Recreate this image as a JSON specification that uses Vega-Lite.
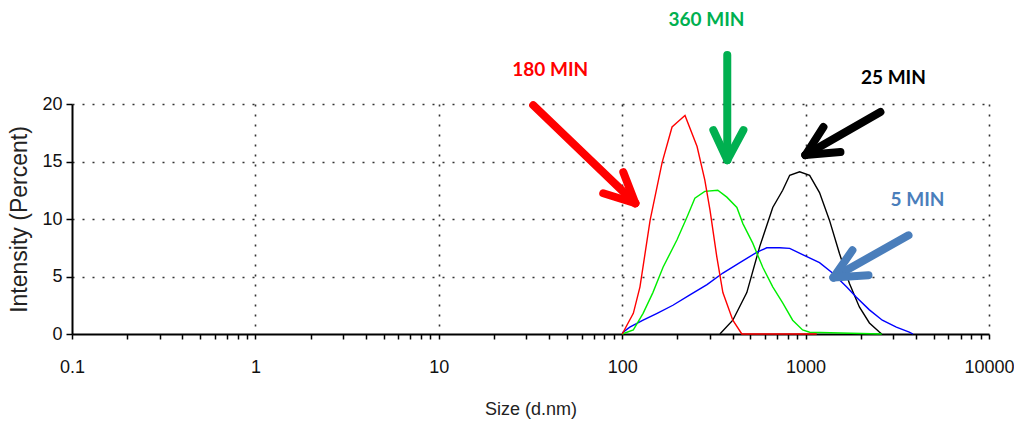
{
  "$schema": "https://vega.github.io/schema/vega-lite/v6.json",
  "width": 917,
  "height": 230,
  "autosize": {"type": "none"},
  "padding": {"left": 72, "top": 104, "right": 25, "bottom": 89},
  "background": "white",
  "config": {
    "view": {"stroke": null},
    "axis": {"labelFont": "Liberation Sans", "titleFont": "Liberation Sans", "labelColor": "#111111", "titleColor": "#222222", "titleFontWeight": "normal"}
  },
  "datasets": {
    "curves": [
      {"series": "25 MIN", "size": 341, "intensity": 0},
      {"series": "25 MIN", "size": 401, "intensity": 1.2},
      {"series": "25 MIN", "size": 478, "intensity": 3.6},
      {"series": "25 MIN", "size": 562, "intensity": 7.6},
      {"series": "25 MIN", "size": 662, "intensity": 11.0},
      {"series": "25 MIN", "size": 750, "intensity": 12.5},
      {"series": "25 MIN", "size": 819, "intensity": 13.8},
      {"series": "25 MIN", "size": 928, "intensity": 14.1},
      {"series": "25 MIN", "size": 1052, "intensity": 13.8},
      {"series": "25 MIN", "size": 1191, "intensity": 12.3},
      {"series": "25 MIN", "size": 1349, "intensity": 9.9},
      {"series": "25 MIN", "size": 1530, "intensity": 7.0},
      {"series": "25 MIN", "size": 1734, "intensity": 4.4},
      {"series": "25 MIN", "size": 1964, "intensity": 2.35},
      {"series": "25 MIN", "size": 2228, "intensity": 0.96},
      {"series": "25 MIN", "size": 2524, "intensity": 0.17},
      {"series": "25 MIN", "size": 2600, "intensity": 0},
      {"series": "5 MIN", "size": 100, "intensity": 0.1},
      {"series": "5 MIN", "size": 110, "intensity": 0.6},
      {"series": "5 MIN", "size": 130, "intensity": 1.2},
      {"series": "5 MIN", "size": 155, "intensity": 1.8},
      {"series": "5 MIN", "size": 189, "intensity": 2.5},
      {"series": "5 MIN", "size": 234, "intensity": 3.4},
      {"series": "5 MIN", "size": 290, "intensity": 4.3},
      {"series": "5 MIN", "size": 354, "intensity": 5.3},
      {"series": "5 MIN", "size": 438, "intensity": 6.2},
      {"series": "5 MIN", "size": 541, "intensity": 7.1},
      {"series": "5 MIN", "size": 614, "intensity": 7.5},
      {"series": "5 MIN", "size": 722, "intensity": 7.5},
      {"series": "5 MIN", "size": 819, "intensity": 7.45},
      {"series": "5 MIN", "size": 963, "intensity": 6.9},
      {"series": "5 MIN", "size": 1191, "intensity": 6.2},
      {"series": "5 MIN", "size": 1402, "intensity": 5.3},
      {"series": "5 MIN", "size": 1671, "intensity": 4.1},
      {"series": "5 MIN", "size": 1892, "intensity": 3.2},
      {"series": "5 MIN", "size": 2228, "intensity": 2.1},
      {"series": "5 MIN", "size": 2620, "intensity": 1.2},
      {"series": "5 MIN", "size": 3125, "intensity": 0.6},
      {"series": "5 MIN", "size": 3674, "intensity": 0.17},
      {"series": "5 MIN", "size": 3850, "intensity": 0},
      {"series": "360 MIN", "size": 100, "intensity": 0},
      {"series": "360 MIN", "size": 115, "intensity": 0.35},
      {"series": "360 MIN", "size": 130, "intensity": 1.8},
      {"series": "360 MIN", "size": 147, "intensity": 3.6},
      {"series": "360 MIN", "size": 167, "intensity": 5.8},
      {"series": "360 MIN", "size": 199, "intensity": 8.2},
      {"series": "360 MIN", "size": 226, "intensity": 10.2},
      {"series": "360 MIN", "size": 249, "intensity": 11.8},
      {"series": "360 MIN", "size": 282, "intensity": 12.4},
      {"series": "360 MIN", "size": 332, "intensity": 12.5},
      {"series": "360 MIN", "size": 372, "intensity": 11.9},
      {"series": "360 MIN", "size": 422, "intensity": 11.0},
      {"series": "360 MIN", "size": 455, "intensity": 9.6},
      {"series": "360 MIN", "size": 515, "intensity": 7.9},
      {"series": "360 MIN", "size": 584, "intensity": 5.8},
      {"series": "360 MIN", "size": 662, "intensity": 4.1},
      {"series": "360 MIN", "size": 750, "intensity": 2.7},
      {"series": "360 MIN", "size": 850, "intensity": 1.2},
      {"series": "360 MIN", "size": 963, "intensity": 0.35},
      {"series": "360 MIN", "size": 1052, "intensity": 0.15},
      {"series": "360 MIN", "size": 2600, "intensity": 0},
      {"series": "180 MIN", "size": 100, "intensity": 0},
      {"series": "180 MIN", "size": 115, "intensity": 1.8},
      {"series": "180 MIN", "size": 125, "intensity": 4.1},
      {"series": "180 MIN", "size": 142, "intensity": 9.9},
      {"series": "180 MIN", "size": 165, "intensity": 14.9},
      {"series": "180 MIN", "size": 187, "intensity": 18.0},
      {"series": "180 MIN", "size": 199, "intensity": 18.4},
      {"series": "180 MIN", "size": 220, "intensity": 19.0},
      {"series": "180 MIN", "size": 256, "intensity": 16.3},
      {"series": "180 MIN", "size": 282, "intensity": 13.4},
      {"series": "180 MIN", "size": 301, "intensity": 10.8},
      {"series": "180 MIN", "size": 328, "intensity": 6.7},
      {"series": "180 MIN", "size": 354, "intensity": 3.6},
      {"series": "180 MIN", "size": 401, "intensity": 1.2},
      {"series": "180 MIN", "size": 449, "intensity": 0},
      {"series": "180 MIN", "size": 1150, "intensity": 0}
    ],
    "arrows": [
      {"label": "180 MIN", "x": 32.7, "y": 19.9, "x2": 117.9, "y2": 11.37},
      {"label": "180 MIN", "x": 101.4, "y": 14.07, "x2": 117.9, "y2": 11.37},
      {"label": "180 MIN", "x": 78.8, "y": 12.24, "x2": 117.9, "y2": 11.37},
      {"label": "360 MIN", "x": 374, "y": 24.27, "x2": 374, "y2": 15.12},
      {"label": "360 MIN", "x": 314, "y": 17.73, "x2": 374, "y2": 15.12},
      {"label": "360 MIN", "x": 458, "y": 17.73, "x2": 374, "y2": 15.12},
      {"label": "25 MIN", "x": 2559, "y": 19.3, "x2": 998, "y2": 15.56},
      {"label": "25 MIN", "x": 1251, "y": 18.0, "x2": 998, "y2": 15.56},
      {"label": "25 MIN", "x": 1549, "y": 15.82, "x2": 998, "y2": 15.56},
      {"label": "5 MIN", "x": 3639, "y": 8.58, "x2": 1419, "y2": 4.92},
      {"label": "5 MIN", "x": 1800, "y": 7.28, "x2": 1419, "y2": 4.92},
      {"label": "5 MIN", "x": 2202, "y": 5.1, "x2": 1419, "y2": 4.92}
    ],
    "labels": [
      {"label": "180 MIN", "x": 40.5, "y": 22.96},
      {"label": "360 MIN", "x": 288, "y": 27.3},
      {"label": "25 MIN", "x": 3013, "y": 22.27},
      {"label": "5 MIN", "x": 4074, "y": 11.63}
    ]
  },
  "layer": [
    {
      "data": {"name": "curves"},
      "mark": {"type": "line", "strokeWidth": 1.4},
      "encoding": {
        "x": {
          "field": "size", "type": "quantitative",
          "scale": {"type": "log", "domain": [0.1, 10000]},
          "axis": {
            "title": "Size (d.nm)",
            "values": [0.1, 0.2, 0.3, 0.4, 0.5, 0.6, 0.7, 0.8, 0.9, 1, 2, 3, 4, 5, 6, 7, 8, 9, 10, 20, 30, 40, 50, 60, 70, 80, 90, 100, 200, 300, 400, 500, 600, 700, 800, 900, 1000, 2000, 3000, 4000, 5000, 6000, 7000, 8000, 9000, 10000],
            "format": "~g",
            "labelExpr": "indexof([0.1, 1, 10, 100, 1000, 10000], datum.value) >= 0 ? datum.label : ''",
            "labelFontSize": 18,
            "titleFontSize": 18,
            "labelPadding": 19,
            "labelOverlap": false,
            "labelFlush": false,
            "tickSize": 5,
            "tickColor": "#000000",
            "tickWidth": 1.5,
            "domainColor": "#000000",
            "domainWidth": 2,
            "grid": true,
            "gridColor": "#333333",
            "gridDash": [2, 8],
            "gridWidth": 1.6,
            "gridOpacity": {"condition": {"test": "indexof([1, 10, 100, 1000, 10000], datum.value) >= 0", "value": 1}, "value": 0},
            "titlePadding": 24
          }
        },
        "y": {
          "field": "intensity", "type": "quantitative",
          "scale": {"domain": [0, 20], "nice": false},
          "axis": {
            "title": "Intensity (Percent)",
            "values": [0, 2.5, 5, 7.5, 10, 12.5, 15, 17.5, 20],
            "labelExpr": "datum.value % 5 == 0 ? datum.label : ''",
            "labelFontSize": 18,
            "titleFontSize": 23,
            "labelPadding": 4,
            "tickSize": 6,
            "tickColor": "#000000",
            "tickWidth": 1.5,
            "domainColor": "#000000",
            "domainWidth": 2,
            "grid": true,
            "gridColor": "#333333",
            "gridDash": [2, 8],
            "gridWidth": 1.6,
            "gridOpacity": {"condition": {"test": "datum.value % 5 == 0 && datum.value > 0", "value": 1}, "value": 0},
            "titlePadding": 10
          }
        },
        "color": {
          "field": "series", "type": "nominal",
          "scale": {"domain": ["25 MIN", "5 MIN", "360 MIN", "180 MIN"], "range": ["#000000", "#0000ff", "#00ee00", "#ff0000"]},
          "legend": null
        },
        "strokeWidth": {"condition": {"test": "datum.series == '5 MIN'", "value": 2}, "value": 1.4}
      }
    },
    {
      "data": {"name": "arrows"},
      "mark": {"type": "rule", "strokeWidth": 8, "strokeCap": "round"},
      "encoding": {
        "x": {"field": "x", "type": "quantitative"},
        "y": {"field": "y", "type": "quantitative"},
        "x2": {"field": "x2"},
        "y2": {"field": "y2"},
        "color": {
          "field": "label", "type": "nominal",
          "scale": {"domain": ["180 MIN", "360 MIN", "25 MIN", "5 MIN"], "range": ["#ff0000", "#00b050", "#000000", "#4a7ebb"]},
          "legend": null
        }
      }
    },
    {
      "data": {"name": "labels"},
      "mark": {"type": "text", "font": "Lato", "fontWeight": "bold", "fontSize": 19, "align": "center", "baseline": "middle"},
      "encoding": {
        "x": {"field": "x", "type": "quantitative"},
        "y": {"field": "y", "type": "quantitative"},
        "text": {"field": "label"},
        "color": {
          "field": "label", "type": "nominal",
          "scale": {"domain": ["180 MIN", "360 MIN", "25 MIN", "5 MIN"], "range": ["#ff0000", "#00b050", "#000000", "#4a7ebb"]},
          "legend": null
        }
      }
    }
  ],
  "resolve": {"scale": {"color": "independent"}}
}
